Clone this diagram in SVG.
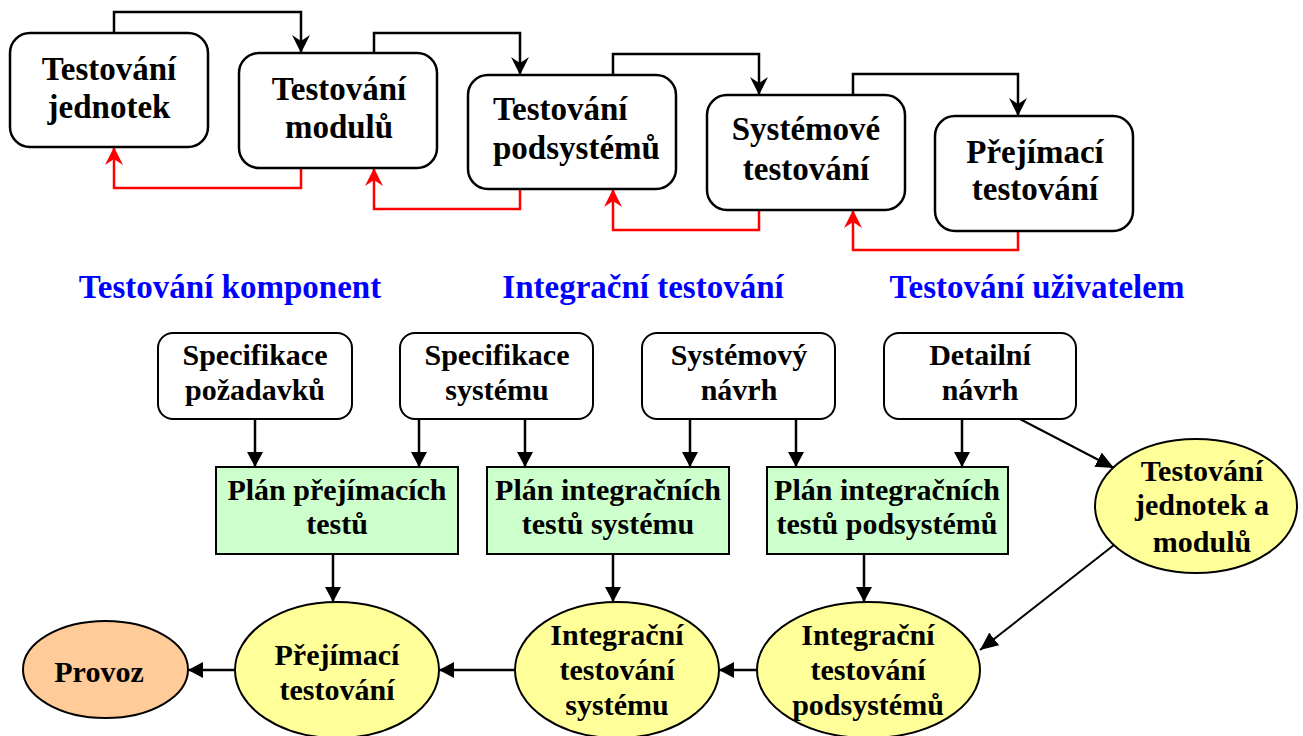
<svg xmlns="http://www.w3.org/2000/svg" width="1303" height="736" viewBox="0 0 1303 736">
  <style>
    .t { font-family: "Liberation Serif", "Times New Roman", serif; font-weight: bold; fill: #000; text-anchor: middle; }
    .t32 { font-size: 33px; }
    .t30 { font-size: 30px; }
    .blue { fill: #0000ff; font-size: 33px; }
    .stage { fill: #fff; stroke: #000; stroke-width: 2.5; }
    .doc { fill: #fff; stroke: #000; stroke-width: 2; }
    .plan { fill: #ccffcc; stroke: #000; stroke-width: 2; }
    .act { fill: #ffff99; stroke: #000; stroke-width: 2; }
    .op { fill: #ffcc99; stroke: #000; stroke-width: 2; }
    .fwd { fill: none; stroke: #000; stroke-width: 2.5; marker-end: url(#stealthK); }
    .back { fill: none; stroke: #ff0000; stroke-width: 2.5; marker-end: url(#stealthR); }
    .flow { fill: none; stroke: #000; stroke-width: 2.5; marker-end: url(#tri); }
    .thin { fill: none; stroke: #000; stroke-width: 2; marker-end: url(#triL); }
  </style>
  <defs>
    <marker id="stealthK" viewBox="0 0 18 18" refX="18" refY="9" markerWidth="18" markerHeight="18" orient="auto" markerUnits="userSpaceOnUse">
      <path d="M0,0 L18,9 L0,18 L6,9 z" fill="#000"/>
    </marker>
    <marker id="stealthR" viewBox="0 0 18 18" refX="18" refY="9" markerWidth="18" markerHeight="18" orient="auto" markerUnits="userSpaceOnUse">
      <path d="M0,0 L18,9 L0,18 L6,9 z" fill="#ff0000"/>
    </marker>
    <marker id="tri" viewBox="0 0 15 16" refX="15" refY="8" markerWidth="15" markerHeight="16" orient="auto" markerUnits="userSpaceOnUse">
      <path d="M0,0 L15,8 L0,16 z" fill="#000"/>
    </marker>
    <marker id="triL" viewBox="0 0 18 16" refX="18" refY="8" markerWidth="18" markerHeight="16" orient="auto" markerUnits="userSpaceOnUse">
      <path d="M0,0 L18,8 L0,16 z" fill="#000"/>
    </marker>
  </defs>

  <!-- connectors -->
  <g id="connectors">
    <!-- forward progression between test levels -->
    <path class="fwd" d="M114,33 V12 H301 V53"/>
    <path class="fwd" d="M374,53 V33 H520 V75"/>
    <path class="fwd" d="M613,75 V54 H759 V95"/>
    <path class="fwd" d="M853,95 V74 H1018 V116"/>
    <!-- feedback back to the previous level -->
    <path class="back" d="M301,168 V188 H114 V147"/>
    <path class="back" d="M520,189 V209 H374 V168"/>
    <path class="back" d="M759,210 V230 H613 V189"/>
    <path class="back" d="M1018,231 V250 H853 V210"/>
    <!-- documents to test plans -->
    <path class="flow" d="M255,419 V467"/>
    <path class="flow" d="M419,419 V467"/>
    <path class="flow" d="M525,419 V467"/>
    <path class="flow" d="M690,419 V467"/>
    <path class="flow" d="M796,419 V467"/>
    <path class="flow" d="M962,419 V467"/>
    <path class="thin" d="M1018,418 L1114,468"/>
    <!-- plans to test activities -->
    <path class="flow" d="M333,554 V602"/>
    <path class="flow" d="M613,554 V602"/>
    <path class="flow" d="M864,554 V602"/>
    <path class="thin" d="M1114,545 L980,650"/>
    <!-- test activities chain -->
    <path class="flow" d="M757,670 H719"/>
    <path class="flow" d="M515,670 H439"/>
    <path class="flow" d="M235,670 H188"/>
  </g>

  <!-- test levels -->
  <g id="level-units">
    <rect class="stage" x="10" y="33" width="198" height="114" rx="20"/>
    <text class="t t32" x="109" y="80">Testování</text>
    <text class="t t32" x="109" y="118">jednotek</text>
  </g>
  <g id="level-modules">
    <rect class="stage" x="239" y="53" width="198" height="115" rx="20"/>
    <text class="t t32" x="339" y="100">Testování</text>
    <text class="t t32" x="339" y="138">modulů</text>
  </g>
  <g id="level-subsystems">
    <rect class="stage" x="468" y="75" width="208" height="114" rx="20"/>
    <text class="t t32" x="493" y="120" style="text-anchor:start">Testování</text>
    <text class="t t32" x="493" y="159" style="text-anchor:start">podsystémů</text>
  </g>
  <g id="level-system">
    <rect class="stage" x="707" y="95" width="198" height="115" rx="20"/>
    <text class="t t32" x="806" y="140">Systémové</text>
    <text class="t t32" x="806" y="180">testování</text>
  </g>
  <g id="level-acceptance">
    <rect class="stage" x="935" y="116" width="198" height="115" rx="20"/>
    <text class="t t32" x="1035" y="163">Přejímací</text>
    <text class="t t32" x="1035" y="200">testování</text>
  </g>

  <!-- phase headings -->
  <g id="headings">
    <text class="t blue" x="230" y="298">Testování komponent</text>
    <text class="t blue" x="643" y="298">Integrační testování</text>
    <text class="t blue" x="1037" y="298">Testování uživatelem</text>
  </g>

  <!-- development documents -->
  <g id="doc-requirements">
    <rect class="doc" x="158" y="333" width="194" height="86" rx="15"/>
    <text class="t t30" x="255" y="365">Specifikace</text>
    <text class="t t30" x="255" y="400">požadavků</text>
  </g>
  <g id="doc-system-spec">
    <rect class="doc" x="400" y="333" width="193" height="86" rx="15"/>
    <text class="t t30" x="497" y="365">Specifikace</text>
    <text class="t t30" x="497" y="400">systému</text>
  </g>
  <g id="doc-system-design">
    <rect class="doc" x="642" y="333" width="193" height="86" rx="15"/>
    <text class="t t30" x="739" y="365">Systémový</text>
    <text class="t t30" x="739" y="400">návrh</text>
  </g>
  <g id="doc-detail-design">
    <rect class="doc" x="884" y="333" width="192" height="86" rx="15"/>
    <text class="t t30" x="980" y="365">Detailní</text>
    <text class="t t30" x="980" y="400">návrh</text>
  </g>

  <!-- test plans -->
  <g id="plan-acceptance">
    <rect class="plan" x="216" y="467" width="242" height="87"/>
    <text class="t t30" x="337" y="500">Plán přejímacích</text>
    <text class="t t30" x="337" y="534">testů</text>
  </g>
  <g id="plan-system-integration">
    <rect class="plan" x="487" y="467" width="242" height="87"/>
    <text class="t t30" x="608" y="500">Plán integračních</text>
    <text class="t t30" x="608" y="534">testů systému</text>
  </g>
  <g id="plan-subsystem-integration">
    <rect class="plan" x="767" y="467" width="241" height="87"/>
    <text class="t t30" x="887" y="500">Plán integračních</text>
    <text class="t t30" x="887" y="534">testů podsystémů</text>
  </g>

  <!-- test activities -->
  <g id="act-unit-module">
    <ellipse class="act" cx="1196" cy="506" rx="101" ry="67"/>
    <text class="t t30" x="1202" y="481">Testování</text>
    <text class="t t30" x="1202" y="515">jednotek a</text>
    <text class="t t30" x="1202" y="552">modulů</text>
  </g>
  <g id="act-subsystem-integration">
    <ellipse class="act" cx="868.5" cy="670" rx="111.5" ry="68"/>
    <text class="t t30" x="868" y="645">Integrační</text>
    <text class="t t30" x="868" y="680">testování</text>
    <text class="t t30" x="868" y="715">podsystémů</text>
  </g>
  <g id="act-system-integration">
    <ellipse class="act" cx="617" cy="670" rx="102" ry="68"/>
    <text class="t t30" x="617" y="645">Integrační</text>
    <text class="t t30" x="617" y="680">testování</text>
    <text class="t t30" x="617" y="715">systému</text>
  </g>
  <g id="act-acceptance">
    <ellipse class="act" cx="337" cy="670" rx="102" ry="68"/>
    <text class="t t30" x="337" y="665">Přejímací</text>
    <text class="t t30" x="337" y="700">testování</text>
  </g>
  <g id="operation">
    <ellipse class="op" cx="105.5" cy="669.5" rx="82.5" ry="48.5"/>
    <text class="t t30" x="99" y="682">Provoz</text>
  </g>
</svg>
